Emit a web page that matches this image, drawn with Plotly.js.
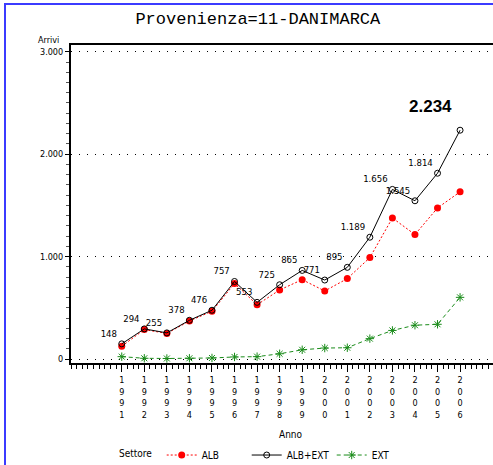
<!DOCTYPE html>
<html>
<head>
<meta charset="utf-8">
<script src="https://cdn.plot.ly/plotly-3.0.1.min.js"></script>
<style>
  html, body { margin: 0; padding: 0; background: #fff; }
  #wrap { position: relative; width: 493px; height: 465px; }
  #chart { width: 493px; height: 465px; }
  #bl { position: absolute; left: 4px; top: 3px; width: 2px; height: 462px; background: #3b3bff; }
  #bt { position: absolute; left: 4px; top: 3px; width: 489px; height: 2px; background: #3b3bff; }
</style>
</head>
<body>
<div id="wrap">
  <div id="chart"></div>
  <div id="bl"></div>
  <div id="bt"></div>
</div>
<script>
const years = [1991,1992,1993,1994,1995,1996,1997,1998,1999,2000,2001,2002,2003,2004,2005,2006];
const alb    = [125,287,250,371,466,737,530,674,775,664,785,990,1377,1215,1475,1632];
const albExt = [148,294,255,378,476,757,553,725,865,771,895,1189,1656,1545,1814,2234];
const ext    = [23,7,5,7,10,20,23,51,90,107,110,199,279,330,339,602];
const yTickVals = [0,1000,2000,3000];

const FONT = '"DejaVu Sans Condensed", "Liberation Sans Narrow", "DejaVu Sans", sans-serif';
const fmt = v => String(v).replace(/\B(?=(\d{3})+(?!\d))/g, '.');
const last = years.length - 1;
const labels = albExt.map((v, i) => i === last ? '' : fmt(v));
const yearText = years.map(y => String(y).split('').join('<br>'));

const traces = [
  { x: years, y: alb, name: 'ALB', type: 'scatter', mode: 'lines+markers',
    line: { color: '#ff0000', width: 1, dash: '2px,2px' },
    marker: { color: '#ff0000', size: 7, symbol: 'circle' } },
  { x: years, y: albExt, name: 'ALB+EXT', type: 'scatter', mode: 'lines+markers+text',
    line: { color: '#000000', width: 1 },
    marker: { color: '#000000', size: 6, symbol: 'circle-open', line: { width: 1 } },
    text: labels, textposition: 'top left',
    textfont: { family: FONT, size: 9.5, color: '#000' } },
  { x: years, y: ext, name: 'EXT', type: 'scatter', mode: 'lines+markers',
    line: { color: '#1a8c1a', width: 1, dash: '4px,3px' },
    marker: { color: '#1a8c1a', size: 7, symbol: 'asterisk-open', line: { width: 1, color: '#1a8c1a' } } }
];

const layout = {
  width: 493, height: 465,
  margin: { l: 71, r: 0, t: 45, b: 102, autoexpand: false },
  paper_bgcolor: '#fff', plot_bgcolor: '#fff',
  separators: ',.',
  font: { family: FONT, size: 9, color: '#000' },
  showlegend: true,
  title: { text: 'Provenienza=11-DANIMARCA', xref: 'container', yref: 'container',
    x: 0.523, y: 0.962, xanchor: 'center', yanchor: 'middle',
    font: { family: '"Liberation Mono", "DejaVu Sans Mono", monospace', size: 17, color: '#000' } },
  xaxis: {
    range: [1988.75, 2007.46],
    tickmode: 'array', tickvals: years, ticktext: yearText,
    ticks: 'outside', ticklen: 7, tickwidth: 1, tickcolor: '#000',
    minor: { dtick: 0.25, ticks: 'outside', ticklen: 4, tickwidth: 1, tickcolor: '#000' },
    showgrid: false, zeroline: false,
    showline: true, linecolor: '#000', linewidth: 2, mirror: true,
    tickfont: { family: FONT, size: 9 }
  },
  yaxis: {
    range: [-39, 3066],
    tickmode: 'array', tickvals: yTickVals, tickformat: ',.0f',
    ticks: 'outside', ticklen: 4, tickwidth: 1, tickcolor: '#000',
    minor: { dtick: 100, ticks: 'outside', ticklen: 3, tickwidth: 1, tickcolor: '#555', showgrid: false },
    showgrid: true, gridcolor: '#000', gridwidth: 1, griddash: '1px,7px',
    zeroline: false,
    showline: true, linecolor: '#000', linewidth: 2,
    tickfont: { family: FONT, size: 9 }
  },
  legend: {
    orientation: 'h', xref: 'container', yref: 'paper',
    x: 0.328, y: -0.335, xanchor: 'left', yanchor: 'bottom',
    font: { family: FONT, size: 10 },
    entrywidth: 40, entrywidthmode: 'pixels', itemwidth: 30,
    bgcolor: 'rgba(0,0,0,0)'
  },
  annotations: [
    { text: 'Arrivi', xref: 'paper', yref: 'paper', x: -0.03, y: 1.0, xanchor: 'right', yanchor: 'bottom',
      showarrow: false, yshift: -2, xshift: 3, font: { family: FONT, size: 9 } },
    { text: 'Anno', xref: 'paper', yref: 'paper', x: 0.5206, y: -0.225, xanchor: 'center', yanchor: 'middle',
      showarrow: false, font: { family: FONT, size: 10 } },
    { text: 'Settore', xref: 'paper', yref: 'paper', x: 0.109, y: -0.285, xanchor: 'left', yanchor: 'middle',
      showarrow: false, font: { family: FONT, size: 10 } },
    { text: '<b>' + fmt(albExt[last]) + '</b>', x: years[last], y: albExt[last],
      xref: 'x', yref: 'y', xanchor: 'right', yanchor: 'bottom', showarrow: false,
      xshift: -6, yshift: 12, font: { family: '"Liberation Sans", Arial, sans-serif', size: 17, color: '#000' } }
  ]
};

Plotly.newPlot('chart', traces, layout, { displayModeBar: false, staticPlot: true });
</script>
</body>
</html>
